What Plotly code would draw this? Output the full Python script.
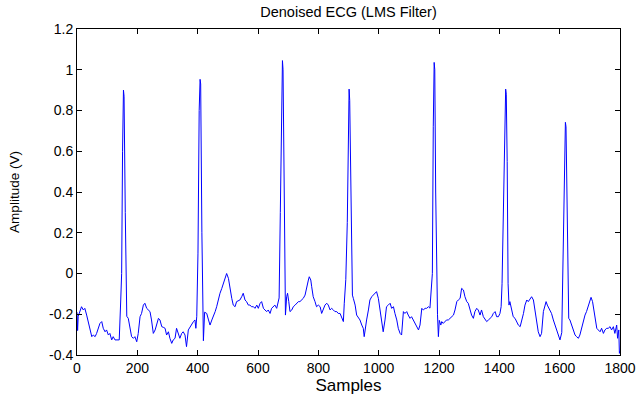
import plotly.graph_objects as go

# Sample index (x) and denoised ECG amplitude (V)
samples = [
    0, 2, 4, 10, 15, 21, 26, 32, 38, 43,
    49, 54, 60, 65, 76, 82, 87, 93, 98, 104,
    109, 115, 120, 126, 131, 137, 140, 145, 148, 151,
    154, 156, 160, 163, 165, 170, 176, 181, 187, 192,
    198, 203, 209, 214, 220, 225, 231, 236, 242, 247,
    253, 259, 264, 270, 275, 281, 286, 292, 297, 303,
    308, 314, 319, 325, 330, 336, 341, 347, 352, 358,
    363, 369, 375, 380, 386, 391, 394, 397, 401, 405,
    408, 410, 414, 417, 419, 423, 430, 436, 441, 447,
    452, 458, 463, 469, 474, 480, 485, 491, 496, 502,
    507, 513, 518, 524, 529, 540, 546, 551, 557, 562,
    568, 573, 579, 585, 590, 596, 601, 607, 612, 618,
    623, 629, 634, 640, 645, 651, 656, 662, 667, 670,
    674, 678, 681, 683, 686, 689, 691, 695, 698, 702,
    706, 712, 717, 723, 728, 734, 739, 745, 750, 756,
    761, 767, 770, 775, 778, 783, 789, 794, 800, 806,
    811, 817, 822, 828, 833, 839, 844, 850, 855, 861,
    866, 872, 877, 883, 886, 891, 896, 899, 902, 904,
    908, 911, 913, 916, 922, 927, 933, 938, 944, 949,
    952, 956, 960, 966, 971, 977, 982, 988, 993, 999,
    1004, 1010, 1015, 1021, 1026, 1032, 1038, 1043, 1049, 1054,
    1060, 1065, 1071, 1076, 1082, 1087, 1093, 1098, 1104, 1109,
    1115, 1120, 1126, 1132, 1137, 1143, 1148, 1154, 1159, 1165,
    1170, 1175, 1178, 1181, 1184, 1186, 1189, 1192, 1195, 1198,
    1201, 1206, 1209, 1214, 1220, 1225, 1231, 1237, 1242, 1248,
    1253, 1259, 1264, 1270, 1275, 1281, 1286, 1292, 1297, 1303,
    1308, 1314, 1319, 1325, 1330, 1336, 1341, 1347, 1353, 1358,
    1364, 1369, 1375, 1380, 1386, 1391, 1397, 1402, 1406, 1409,
    1413, 1417, 1421, 1423, 1426, 1429, 1432, 1435, 1441, 1446,
    1452, 1458, 1463, 1469, 1474, 1480, 1485, 1491, 1496, 1502,
    1507, 1513, 1518, 1524, 1529, 1535, 1540, 1546, 1551, 1555,
    1559, 1562, 1568, 1573, 1579, 1585, 1590, 1596, 1601, 1607,
    1610, 1613, 1619, 1621, 1624, 1627, 1630, 1634, 1640, 1645,
    1651, 1656, 1662, 1667, 1673, 1678, 1684, 1689, 1695, 1700,
    1704, 1709, 1714, 1718, 1723, 1728, 1734, 1739, 1745, 1750,
    1756, 1761, 1767, 1772, 1778, 1783, 1789, 1792, 1796, 1798,
    1800,
]

amplitude = [
    -0.19, -0.28, -0.21, -0.187, -0.163, -0.179, -0.171, -0.204, -0.245, -0.286,
    -0.310, -0.302, -0.310, -0.294, -0.245, -0.236, -0.269, -0.286, -0.277, -0.302,
    -0.294, -0.326, -0.310, -0.326, -0.326, -0.326, -0.326, -0.13, 0.0, 0.6,
    0.90, 0.87, 0.3, -0.05, -0.21, -0.22, -0.277, -0.31, -0.318, -0.31,
    -0.335, -0.294, -0.212, -0.196, -0.155, -0.146, -0.171, -0.179, -0.187, -0.228,
    -0.294, -0.277, -0.253, -0.220, -0.228, -0.261, -0.264, -0.269, -0.302, -0.286,
    -0.318, -0.343, -0.326, -0.318, -0.269, -0.294, -0.318, -0.294, -0.286, -0.302,
    -0.359, -0.277, -0.261, -0.245, -0.236, -0.228, -0.269, -0.21, 0.1, 0.8,
    0.953, 0.93, 0.2, -0.2, -0.33, -0.19, -0.196, -0.228, -0.253, -0.228,
    -0.212, -0.187, -0.163, -0.122, -0.097, -0.073, -0.048, -0.024, 0.0, -0.024,
    -0.081, -0.122, -0.155, -0.163, -0.138, -0.130, -0.114, -0.097, -0.130, -0.138,
    -0.155, -0.155, -0.163, -0.163, -0.171, -0.155, -0.171, -0.146, -0.138, -0.171,
    -0.179, -0.187, -0.179, -0.196, -0.171, -0.163, -0.155, -0.171, -0.146, -0.12,
    0.3, 0.75, 1.045, 1.0, 0.5, -0.1, -0.204, -0.114, -0.097, -0.138,
    -0.187, -0.179, -0.163, -0.155, -0.146, -0.138, -0.138, -0.130, -0.122, -0.106,
    -0.065, -0.032, -0.016, -0.032, -0.065, -0.114, -0.138, -0.163, -0.155, -0.163,
    -0.196, -0.171, -0.155, -0.146, -0.155, -0.179, -0.171, -0.179, -0.187, -0.187,
    -0.196, -0.196, -0.212, -0.236, -0.146, -0.03, 0.25, 0.6, 0.905, 0.85,
    0.3, -0.05, -0.106, -0.122, -0.155, -0.204, -0.220, -0.228, -0.253, -0.269,
    -0.310, -0.261, -0.228, -0.179, -0.130, -0.114, -0.106, -0.097, -0.089, -0.122,
    -0.171, -0.245, -0.286, -0.228, -0.163, -0.155, -0.146, -0.171, -0.163, -0.196,
    -0.228, -0.269, -0.294, -0.302, -0.187, -0.196, -0.187, -0.204, -0.220, -0.212,
    -0.228, -0.245, -0.261, -0.277, -0.253, -0.171, -0.179, -0.171, -0.171, -0.163,
    -0.17, -0.08, 0.0, 0.72, 1.036, 1.0, 0.4, -0.05, -0.2, -0.31,
    -0.23, -0.253, -0.236, -0.245, -0.236, -0.228, -0.228, -0.220, -0.212, -0.204,
    -0.179, -0.138, -0.130, -0.122, -0.073, -0.081, -0.114, -0.138, -0.146, -0.187,
    -0.204, -0.220, -0.187, -0.171, -0.179, -0.204, -0.179, -0.212, -0.228, -0.236,
    -0.228, -0.220, -0.212, -0.196, -0.187, -0.212, -0.212, -0.196, -0.163, -0.05,
    0.3, 0.7, 0.905, 0.88, 0.55, -0.05, -0.155, -0.138, -0.187, -0.212,
    -0.220, -0.236, -0.253, -0.261, -0.236, -0.196, -0.155, -0.130, -0.138, -0.122,
    -0.114, -0.130, -0.187, -0.245, -0.286, -0.310, -0.294, -0.187, -0.155, -0.138,
    -0.155, -0.163, -0.179, -0.196, -0.228, -0.253, -0.277, -0.302, -0.326, -0.29,
    -0.05, 0.36, 0.742, 0.72, 0.4, -0.08, -0.22, -0.228, -0.253, -0.277,
    -0.302, -0.310, -0.318, -0.302, -0.269, -0.228, -0.204, -0.187, -0.155, -0.130,
    -0.117, -0.138, -0.187, -0.236, -0.269, -0.277, -0.286, -0.269, -0.294, -0.277,
    -0.269, -0.269, -0.261, -0.277, -0.261, -0.294, -0.253, -0.318, -0.277, -0.392,
    -0.38,
]

x_ticks = [0, 200, 400, 600, 800, 1000, 1200, 1400, 1600, 1800]
x_tick_labels = ["0", "200", "400", "600", "800", "1000", "1200", "1400", "1600", "1800"]
y_ticks = [-0.4, -0.2, 0, 0.2, 0.4, 0.6, 0.8, 1.0, 1.2]
y_tick_labels = ["-0.4", "-0.2", "0", "0.2", "0.4", "0.6", "0.8", "1", "1.2"]

assert len(samples) == len(amplitude)

FONT = "Arial, Liberation Sans, sans-serif"

fig = go.Figure()
fig.add_trace(go.Scatter(
    x=samples, y=amplitude, mode="lines",
    line=dict(color="#0000ff", width=1),
    hoverinfo="skip",
))

axis_common = dict(
    showline=True, linecolor="black", linewidth=1, mirror="ticks",
    ticks="inside", ticklen=5, tickwidth=1, tickcolor="black",
    showgrid=False, zeroline=False,
    tickfont=dict(family=FONT, size=14, color="black"),
    automargin=False,
)

fig.update_layout(
    width=642, height=398,
    margin=dict(l=77, r=22, t=29, b=43),
    paper_bgcolor="white", plot_bgcolor="white",
    showlegend=False,
    title=dict(
        text="Denoised ECG (LMS Filter)",
        font=dict(family=FONT, size=14.5, color="black"),
        x=0.5, xref="paper", xanchor="center",
        y=1 - 12 / 398, yref="container", yanchor="middle",
    ),
    xaxis=dict(
        range=[0, 1800], tickvals=x_ticks, ticktext=x_tick_labels,
        title=dict(text="Samples", font=dict(family=FONT, size=17, color="black"), standoff=0),
        **axis_common,
    ),
    yaxis=dict(
        range=[-0.4, 1.2], tickvals=y_ticks, ticktext=y_tick_labels,
        title=dict(text="Amplitude (V)", font=dict(family=FONT, size=13.5, color="black"), standoff=26),
        **axis_common,
    ),
)

fig.write_html("out.html")
